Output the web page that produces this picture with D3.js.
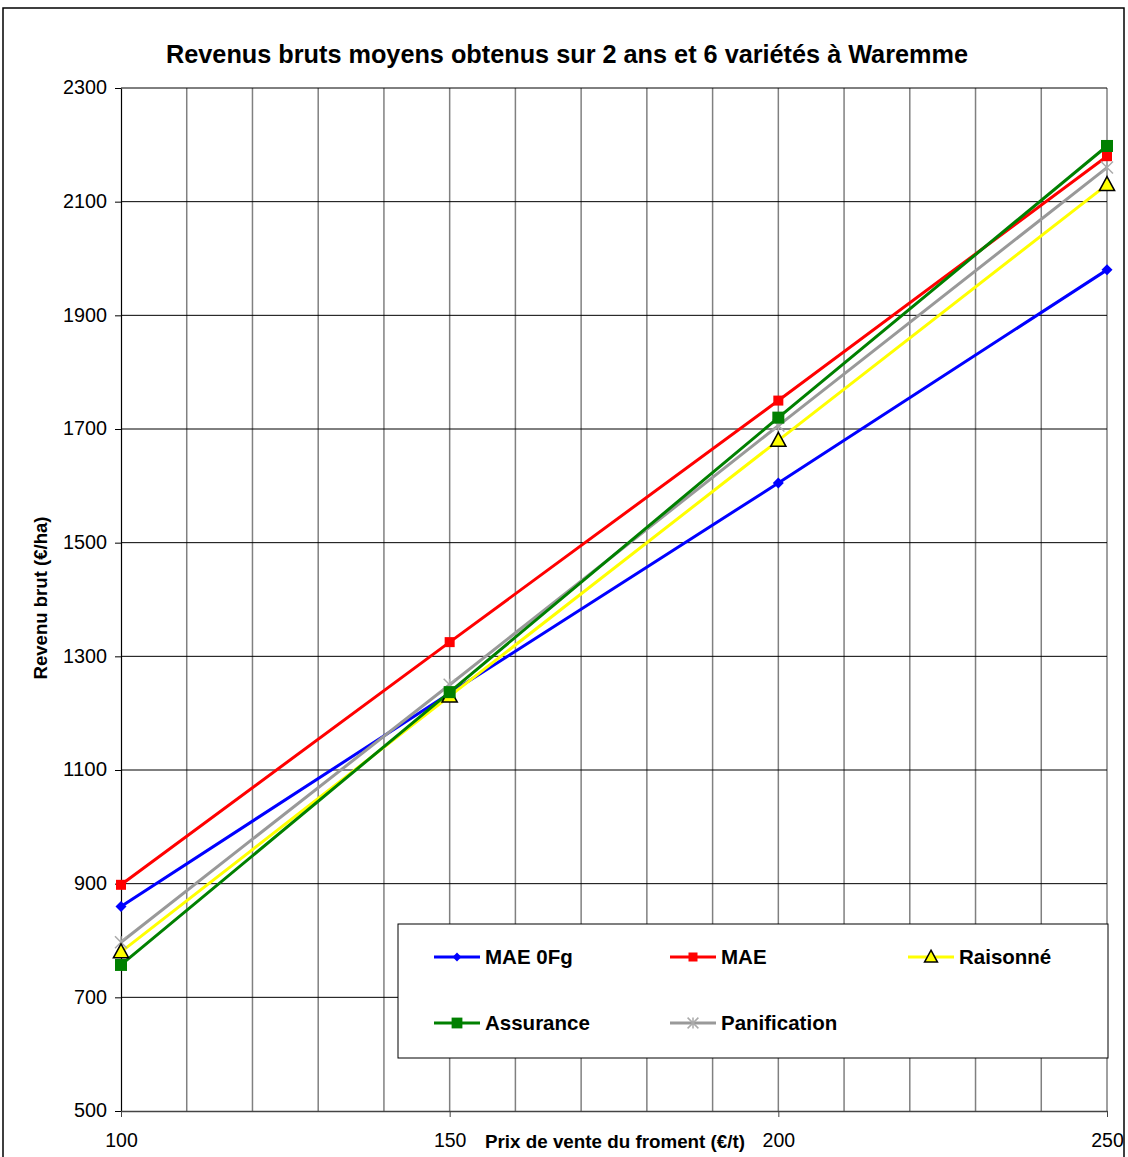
<!DOCTYPE html>
<html><head><meta charset="utf-8">
<script src="https://cdn.jsdelivr.net/npm/d3@7"></script>
<style>body{margin:0;background:#fff}svg{display:block}</style>
</head><body>
<script>
const prices = [100, 150, 200, 250];
const mae0fg = [860, 1235, 1605, 1980];
const mae = [898, 1325, 1750, 2180];
const raisonne = [780, 1230, 1680, 2130];
const assurance = [757, 1237, 1720, 2198];
const panification = [797, 1250, 1706, 2160];
const yTicks = [500, 700, 900, 1100, 1300, 1500, 1700, 1900, 2100, 2300];
const xLabels = [100, 150, 200, 250];
const seriesNames = ["MAE 0Fg", "MAE", "Raisonné", "Assurance", "Panification"];

const series = [
  {name: seriesNames[0], values: mae0fg, color: "#0000ff", marker: "diamond"},
  {name: seriesNames[1], values: mae, color: "#ff0000", marker: "square"},
  {name: seriesNames[2], values: raisonne, color: "#ffff00", marker: "triangle"},
  {name: seriesNames[3], values: assurance, color: "#008000", marker: "bigsquare"},
  {name: seriesNames[4], values: panification, color: "#999999", marker: "star"}
];
const drawOrder = [0, 1, 4, 2, 3];
const FONT = "Liberation Sans, Arial, sans-serif";

const W = 1128, H = 1157;
const svg = d3.select("body").append("svg").attr("width", W).attr("height", H);
svg.append("rect").attr("x", 3).attr("y", 8).attr("width", 1121).attr("height", 1160)
  .attr("fill", "#fff").attr("stroke", "#000").attr("stroke-width", 1.5);

const L = 121, R = 1107, T = 88, B = 1111;
const x = d3.scaleLinear().domain([100, 250]).range([L, R]);
const y = d3.scaleLinear().domain([500, 2300]).range([B, T]);

svg.append("g").selectAll("line").data(d3.range(110, 251, 10)).join("line")
  .attr("x1", d => x(d)).attr("x2", d => x(d)).attr("y1", T).attr("y2", B)
  .attr("stroke", "#808080").attr("stroke-width", 1.5);
svg.append("g").selectAll("line").data(yTicks.filter(v => v > 500)).join("line")
  .attr("x1", L).attr("x2", R).attr("y1", d => y(d)).attr("y2", d => y(d))
  .attr("stroke", "#000").attr("stroke-width", 1);

const yAxis = d3.axisLeft(y).tickValues(yTicks).tickSize(6).tickSizeOuter(0).tickFormat(d3.format("d"));
const gy = svg.append("g").attr("transform", `translate(${L},0)`).call(yAxis);
gy.select(".domain").attr("stroke", "#000").attr("stroke-width", 1.2);
gy.selectAll(".tick line").attr("stroke", "#000");
gy.selectAll(".tick text").attr("font-family", FONT).attr("font-size", 19.5).attr("fill", "#000")
  .attr("x", -14).attr("dy", "0.3em").attr("lengthAdjust", "spacingAndGlyphs")
  .attr("textLength", d => String(d).length * 11);

const xAxis = d3.axisBottom(x).tickValues(xLabels).tickSize(6).tickSizeOuter(0).tickFormat(d3.format("d"));
const gx = svg.append("g").attr("transform", `translate(0,${B})`).call(xAxis);
gx.select(".domain").attr("stroke", "#444").attr("stroke-width", 1.5);
gx.selectAll(".tick line").attr("stroke", "#444");
gx.selectAll(".tick text").attr("font-family", FONT).attr("font-size", 19.5).attr("fill", "#000").attr("y", 22);

const line = d3.line().x((d, i) => x(prices[i])).y(d => y(d));
const gl = svg.append("g");
drawOrder.forEach(k => {
  const s = series[k];
  gl.append("path").attr("d", line(s.values)).attr("fill", "none")
    .attr("stroke", s.color).attr("stroke-width", 3);
});

function drawMarker(g, s, cx, cy, scale) {
  scale = scale || 1;
  if (s.marker === "diamond") {
    const r = 5.5 * scale;
    g.append("path").attr("d", `M${cx},${cy-r}L${cx+r},${cy}L${cx},${cy+r}L${cx-r},${cy}Z`).attr("fill", s.color);
  } else if (s.marker === "square") {
    const r = 5 * scale;
    g.append("rect").attr("x", cx-r).attr("y", cy-r).attr("width", 2*r).attr("height", 2*r).attr("fill", s.color);
  } else if (s.marker === "bigsquare") {
    const r = 6 * scale;
    g.append("rect").attr("x", cx-r).attr("y", cy-r).attr("width", 2*r).attr("height", 2*r).attr("fill", s.color);
  } else if (s.marker === "triangle") {
    const r = 8 * scale;
    g.append("path").attr("d", `M${cx},${cy-r}L${cx+r*0.95},${cy+r*0.75}L${cx-r*0.95},${cy+r*0.75}Z`)
      .attr("fill", s.color).attr("stroke", "#000").attr("stroke-width", 1.5);
  } else if (s.marker === "star") {
    const r = 6 * scale;
    const gs = g.append("g").attr("stroke", "#aaaaaa").attr("stroke-width", 1.5);
    gs.append("line").attr("x1", cx-r).attr("y1", cy-r).attr("x2", cx+r).attr("y2", cy+r);
    gs.append("line").attr("x1", cx-r).attr("y1", cy+r).attr("x2", cx+r).attr("y2", cy-r);
    gs.append("line").attr("x1", cx).attr("y1", cy-r).attr("x2", cx).attr("y2", cy+r);
  }
}
const gm = svg.append("g");
drawOrder.forEach(k => {
  const s = series[k];
  s.values.forEach((v, i) => drawMarker(gm, s, x(prices[i]), y(v)));
});

svg.append("text").attr("x", 567).attr("y", 63).attr("text-anchor", "middle")
  .attr("font-family", FONT).attr("font-weight", "bold").attr("font-size", 25)
  .attr("textLength", 802).attr("lengthAdjust", "spacingAndGlyphs")
  .text("Revenus bruts moyens obtenus sur 2 ans et 6 variétés à Waremme");
svg.append("text").attr("x", 485).attr("y", 1148)
  .attr("font-family", FONT).attr("font-weight", "bold").attr("font-size", 18.5)
  .attr("textLength", 260).attr("lengthAdjust", "spacingAndGlyphs")
  .text("Prix de vente du froment (€/t)");
svg.append("text").attr("transform", "translate(47,598) rotate(-90)").attr("text-anchor", "middle")
  .attr("font-family", FONT).attr("font-weight", "bold").attr("font-size", 18)
  .attr("textLength", 163).attr("lengthAdjust", "spacingAndGlyphs")
  .text("Revenu brut (€/ha)");

const lg = svg.append("g");
lg.append("rect").attr("x", 398).attr("y", 924).attr("width", 710).attr("height", 134)
  .attr("fill", "#fff").attr("stroke", "#000").attr("stroke-width", 1);
const legPos = [[434, 957], [670, 957], [908, 957], [434, 1023], [670, 1023]];
series.forEach((s, i) => {
  const [lx, ly] = legPos[i];
  lg.append("line").attr("x1", lx).attr("x2", lx + 46).attr("y1", ly).attr("y2", ly)
    .attr("stroke", s.color).attr("stroke-width", 3);
  drawMarker(lg, s, lx + 23, ly, s.marker === "triangle" ? 0.85 : (s.marker === "diamond" ? 0.8 : 0.9));
  lg.append("text").attr("x", lx + 51).attr("y", ly).attr("dy", "0.35em")
    .attr("font-family", FONT).attr("font-weight", "bold").attr("font-size", 20.5)
    .text(s.name);
});
</script>
</body></html>
